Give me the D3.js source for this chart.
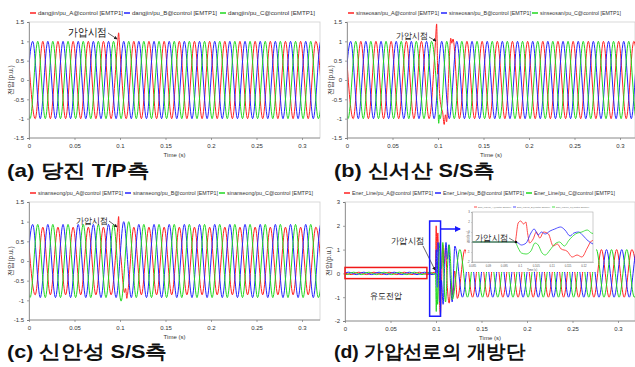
<!DOCTYPE html>
<html>
<head>
<meta charset="utf-8">
<script src="https://cdn.jsdelivr.net/npm/d3@7"></script>
<style>
  body { margin: 0; background: #fff; }
  svg { display: block; }
  text { font-family: "Liberation Sans", Arial, sans-serif; }
</style>
</head>
<body>
<div id="chart"></div>
<script>
// times (s) of the peaks / troughs of each phase
const tA = [-0.0015, 0.0068, 0.0152, 0.0235, 0.0318, 0.0402, 0.0485, 0.0568, 0.0652, 0.0735,
  0.0818, 0.0902, 0.0985, 0.1068, 0.1152, 0.1235, 0.1318, 0.1402, 0.1485, 0.1568,
  0.1652, 0.1735, 0.1818, 0.1902, 0.1985, 0.2068, 0.2152, 0.2235, 0.2318, 0.2402,
  0.2485, 0.2568, 0.2652, 0.2735, 0.2818, 0.2902, 0.2985, 0.3068, 0.3152, 0.3235];
const tB = [-0.0042, 0.0041, 0.0124, 0.0207, 0.0291, 0.0374, 0.0457, 0.0541, 0.0624, 0.0707,
  0.0791, 0.0874, 0.0957, 0.1041, 0.1124, 0.1207, 0.1291, 0.1374, 0.1457, 0.1541,
  0.1624, 0.1707, 0.1791, 0.1874, 0.1957, 0.2041, 0.2124, 0.2207, 0.2291, 0.2374,
  0.2457, 0.2541, 0.2624, 0.2707, 0.2791, 0.2874, 0.2957, 0.3041, 0.3124, 0.3207, 0.3291];
const tC = [-0.0071, 0.0012, 0.0096, 0.0179, 0.0262, 0.0346, 0.0429, 0.0512, 0.0596, 0.0679,
  0.0762, 0.0846, 0.0929, 0.1012, 0.1096, 0.1179, 0.1262, 0.1346, 0.1429, 0.1512,
  0.1596, 0.1679, 0.1762, 0.1846, 0.1929, 0.2012, 0.2096, 0.2179, 0.2262, 0.2346,
  0.2429, 0.2512, 0.2596, 0.2679, 0.2762, 0.2846, 0.2929, 0.3012, 0.3096, 0.3179, 0.3262];

// (a) dangjin  -- values at the times above (null = replaced by the detail points)
const aA = [1, -1, 1, -1, 1, -1, 1, -1, 1, -1,
  1, -1, null, -1, 1, -1, 1, -1, 1, -1,
  1, -1, 1, -1, 1, -1, 1, -1, 1, -1,
  1, -1, 1, -1, 1, -1, 1, -1, 1, -1];
const aB = [-1, 1, -1, 1, -1, 1, -1, 1, -1, 1,
  -1, 1, -1, 1, -1, 1, -1, 1, -1, 1,
  -1, 1, -1, 1, -1, 1, -1, 1, -1, 1,
  -1, 1, -1, 1, -1, 1, -1, 1, -1, 1, -1];
const aC = [1, -1, 1, -1, 1, -1, 1, -1, 1, -1,
  1, -1, 1, -1, 1, -1, 1, -1, 1, -1,
  1, -1, 1, -1, 1, -1, 1, -1, 1, -1,
  1, -1, 1, -1, 1, -1, 1, -1, 1, -1, 1];
const aAx = [[0.0975, 0.99], [0.0985, 1.22], [0.0993, 0.98]];

// (b) sinseosan
const bA = [1, -1, 1, -1, 1, -1, 1, -1, 1, -1,
  1, -1, null, null, null, -1, 1, -1, 1, -1,
  1, -1, 1, -1, 1, -1, 1, -1, 1, -1,
  1, -1, 1, -1, 1, -1, 1, -1, 1, -1];
const bB = [-1, 1, -1, 1, -1, 1, -1, 1, -1, 1,
  -1, 1, -1, 1, -1, 1, -1, 1, -1, 1,
  -1, 1, -1, 1, -1, 1, -1, 1, -1, 1,
  -1, 1, -1, 1, -1, 1, -1, 1, -1, 1, -1];
const bC = [1, -1, 1, -1, 1, -1, 1, -1, 1, -1,
  1, -1, 1, null, 1, -1, 1, -1, 1, -1,
  1, -1, 1, -1, 1, -1, 1, -1, 1, -1,
  1, -1, 1, -1, 1, -1, 1, -1, 1, -1, 1];
const bAx = [[0.0972, 0.97], [0.0985, 1.45], [0.0991, 0.9], [0.0997, 0.15], [0.1004, 0.4],
  [0.1015, -0.25], [0.1035, -0.7], [0.1052, -0.85], [0.1068, -1.15], [0.1082, -0.9],
  [0.1095, -1.08], [0.1112, -0.2], [0.1128, 0.7], [0.114, 1.08], [0.1152, 0.95], [0.1165, 1.06]];
const bCx = [[0.0998, -0.7], [0.1008, -1.12], [0.1016, -0.9], [0.1024, -1.0]];

// (c) sinanseong
const cA = [0.86, -0.86, 0.86, -0.86, 0.86, -0.86, 0.86, -0.86, 0.86, -0.86,
  0.86, -0.86, null, null, 0.86, -0.86, 0.86, -0.86, 0.86, -0.86,
  0.86, -0.86, 0.86, -0.86, 0.86, -0.86, 0.86, -0.86, 0.86, -0.86,
  0.86, -0.86, 0.86, -0.86, 0.86, -0.86, 0.86, -0.86, 0.86, -0.86];
const cB = [-0.93, 0.93, -0.93, 0.93, -0.93, 0.93, -0.93, 0.93, -0.93, 0.93,
  -0.93, 0.93, -0.93, 1.0, -0.93, 0.93, -0.93, 0.93, -0.93, 0.93,
  -0.93, 0.93, -0.93, 0.93, -0.93, 0.93, -0.93, 0.93, -0.93, 0.93,
  -0.93, 0.93, -0.93, 0.93, -0.93, 0.93, -0.93, 0.93, -0.93, 0.93, -0.93];
const cC = [0.93, -0.93, 0.93, -0.93, 0.93, -0.93, 0.93, -0.93, 0.93, -0.93,
  0.93, -0.93, 0.93, -1.02, 1.0, -0.93, 0.93, -0.93, 0.93, -0.93,
  0.93, -0.93, 0.93, -0.93, 0.93, -0.93, 0.93, -0.93, 0.93, -0.93,
  0.93, -0.93, 0.93, -0.93, 0.93, -0.93, 0.93, -0.93, 0.93, -0.93, 0.93];
const cAx = [[0.0975, 0.85], [0.0985, 1.13], [0.0992, 0.7], [0.1, 0.3], [0.1012, 0.05],
  [0.1035, -0.6], [0.105, -0.8], [0.1062, -0.7], [0.1075, -0.95], [0.1088, -0.75]];

// (d) Ener_Line (open end of the energized line)
const dA = [0.05, -0.05, 0.05, -0.05, 0.05, -0.05, 0.05, -0.05, 0.05, -0.05,
  0.05, -0.05, null, null, null, -1.05, 1, -1, 1, -1,
  1, -1, 1, -1, 1, -1, 1, -1, 1, -1,
  1, -1, 1, -1, 1, -1, 1, -1, 1, -1];
const dB = [-0.05, 0.05, -0.05, 0.05, -0.05, 0.05, -0.05, 0.05, -0.05, 0.05,
  -0.05, 0.05, -0.05, null, null, 1.15, -1, 1, -1, 1,
  -1, 1, -1, 1, -1, 1, -1, 1, -1, 1,
  -1, 1, -1, 1, -1, 1, -1, 1, -1, 1, -1];
const dC = [0.05, -0.05, 0.05, -0.05, 0.05, -0.05, 0.05, -0.05, 0.05, -0.05,
  0.05, -0.05, 0.05, null, null, -1.1, 1, -1, 1, -1,
  1, -1, 1, -1, 1, -1, 1, -1, 1, -1,
  1, -1, 1, -1, 1, -1, 1, -1, 1, -1, 1];
const dAx = [[0.0985, 0.05], [0.0993, 0.0], [0.1002, 2.0], [0.101, 0.9], [0.102, 1.7],
  [0.1032, -0.4], [0.1048, -1.75], [0.106, -0.5], [0.1075, 1.2], [0.109, 0.4],
  [0.1105, 1.1], [0.1125, -0.6], [0.1145, -1.25], [0.1165, -0.4], [0.1185, -0.9], [0.1205, 0.1]];
const dBx = [[0.0995, 0.0], [0.1003, 1.0], [0.1012, -0.6], [0.1022, 1.3], [0.1035, 0.2],
  [0.1045, -1.2], [0.106, -0.3], [0.1078, -1.3], [0.1095, 0.3], [0.111, 1.3],
  [0.1125, 0.6], [0.114, 1.2], [0.116, -0.4], [0.1178, -1.2]];
const dCx = [[0.0985, -0.03], [0.0995, 0.0], [0.1003, -1.6], [0.101, -0.6], [0.1018, -1.3],
  [0.103, 0.4], [0.1045, 1.3], [0.106, 0.2], [0.1075, 1.3], [0.109, -0.5],
  [0.1105, -1.2], [0.1125, 0.2], [0.1145, 1.2], [0.116, 0.5]];

// zoomed inset of (d), 0.085 .. 0.123 s
const iA = [[0.085, 0], [0.0985, 0], [0.0995, 1.9], [0.1003, 2.1], [0.1012, 1.8], [0.1019, 2.0],
  [0.1025, 0.8], [0.1031, -0.1], [0.1042, 0.3], [0.1052, 1.0], [0.1063, 0.4], [0.1075, 1.0],
  [0.109, 0.8], [0.1105, -0.4], [0.1118, -0.2], [0.113, -0.7], [0.1148, -0.9], [0.1165, -1.5],
  [0.118, -1.3], [0.1195, -1.5], [0.1212, -0.6], [0.1225, 0.1], [0.123, 0.15]];
const iB = [[0.085, 0], [0.0985, 0], [0.0995, -0.1], [0.1005, -0.3], [0.102, -0.1], [0.1035, 0.9],
  [0.1045, 1.3], [0.1058, 0.7], [0.1068, 1.0], [0.108, 0.8], [0.1095, 1.1], [0.111, 1.3],
  [0.1128, 1.5], [0.1142, 1.2], [0.1158, 0.6], [0.117, 0.9], [0.1185, 1.0], [0.12, 0.6],
  [0.1215, 0.1], [0.123, -0.2]];
const iC = [[0.085, 0], [0.0985, 0], [0.0995, -0.6], [0.1005, -1.1], [0.102, -1.2], [0.1035, -0.9],
  [0.1048, -0.1], [0.1058, -0.3], [0.107, -1.1], [0.108, -1.3], [0.1095, -0.8], [0.111, -0.2],
  [0.1125, 0.0], [0.114, -0.4], [0.1155, 0.2], [0.1175, 0.8], [0.1195, 1.0], [0.1212, 1.2],
  [0.1225, 0.9], [0.123, 0.85]];

const timeTicks = [0, 0.05, 0.1, 0.15, 0.2, 0.25, 0.3];
const puTicks = [-1.5, -1, -0.5, 0, 0.5, 1, 1.5];
const puTicksD = [-2, -1, 0, 1, 2, 3];
const insetTimeTicks = [0.085, 0.09, 0.095, 0.1, 0.105, 0.11, 0.115, 0.12];
const insetTicks = [-2, -1, 0, 1, 2, 3];
const phases = ['A', 'B', 'C'];
const colors = ['#ff2020', '#2323ff', '#1fd81f'];

function pts(times, vals, extra) {
  const p = times.map((t, i) => [t, vals[i]]).filter(d => d[1] != null).concat(extra || []);
  p.sort((a, b) => a[0] - b[0]);
  return p;
}

const panels = [
  { name: 'dangjin', left: 29, right: 320, top: 22, bottom: 138, yDom: [-1.5, 1.5], yTicks: puTicks,
    series: [pts(tA, aA, aAx), pts(tB, aB), pts(tC, aC)],
    legY: 13, leg: [29, 123, 219], legLen: [85, 85, 87], ylabX: 13,
    caption: '(a) 당진 T/P측', capX: 7, capY: 177, capLen: 142 },
  { name: 'sinseosan', left: 347, right: 635, top: 22, bottom: 138, yDom: [-1.5, 1.5], yTicks: puTicks,
    series: [pts(tA, bA, bAx), pts(tB, bB), pts(tC, bC, bCx)],
    legY: 13, leg: [347, 440, 531], legLen: [83, 82, 81], ylabX: 333,
    caption: '(b) 신서산 S/S측', capX: 334, capY: 177, capLen: 161 },
  { name: 'sinanseong', left: 29, right: 320, top: 202, bottom: 320, yDom: [-1.5, 1.5], yTicks: puTicks,
    series: [pts(tA, cA, cAx), pts(tB, cB), pts(tC, cC)],
    legY: 193, leg: [29, 124, 218], legLen: [85, 85, 86], ylabX: 13,
    caption: '(c) 신안성 S/S측', capX: 7, capY: 358, capLen: 160 },
  { name: 'Ener_Line', left: 345, right: 635, top: 202, bottom: 321, yDom: [-2, 3], yTicks: puTicksD,
    series: [pts(tA, dA, dAx), pts(tB, dB, dBx), pts(tC, dC, dCx)],
    legY: 193, leg: [343, 434, 525], legLen: [81, 81, 81], ylabX: 331,
    caption: '(d) 가압선로의 개방단', capX: 334, capY: 358, capLen: 191 }
];

const svg = d3.select('#chart').append('svg').attr('width', 635).attr('height', 367);
svg.append('rect').attr('width', 635).attr('height', 367).attr('fill', '#fff');

const defs = svg.append('defs');
defs.append('marker').attr('id', 'head').attr('viewBox', '0 0 6 6')
  .attr('refX', 5).attr('refY', 3).attr('markerWidth', 5).attr('markerHeight', 5)
  .attr('orient', 'auto')
  .append('path').attr('d', 'M0,0L6,3L0,6Z').attr('fill', '#222');
defs.append('marker').attr('id', 'headBlue').attr('viewBox', '0 0 6 6')
  .attr('refX', 5).attr('refY', 3).attr('markerWidth', 4).attr('markerHeight', 4)
  .attr('orient', 'auto')
  .append('path').attr('d', 'M0,0L6,3L0,6Z').attr('fill', '#1a1aff');

const scales = [];

panels.forEach((p, pi) => {
  const x = d3.scaleLinear().domain([0, 0.32]).range([p.left, p.left + 0.32 * 910]);
  const y = d3.scaleLinear().domain(p.yDom).range([p.bottom, p.top]);
  scales.push({ x, y });
  const g = svg.append('g');

  defs.append('clipPath').attr('id', 'clip' + pi)
    .append('rect').attr('x', p.left).attr('y', p.top - 10)
    .attr('width', p.right - p.left).attr('height', p.bottom - p.top + 10);

  g.append('rect').attr('x', p.left).attr('y', p.top)
    .attr('width', p.right - p.left).attr('height', p.bottom - p.top)
    .attr('fill', '#fff').attr('stroke', '#cfcfcf').attr('stroke-width', 0.8);

  const line = d3.line().x(d => x(d[0])).y(d => y(d[1])).curve(d3.curveMonotoneX);
  const lines = g.append('g').attr('clip-path', `url(#clip${pi})`);
  p.series.forEach((s, si) => {
    lines.append('path').datum(s).attr('d', line)
      .attr('fill', 'none').attr('stroke', colors[si]).attr('stroke-width', 1);
  });

  // axes
  const ax = g.append('g').attr('transform', `translate(0,${p.bottom})`)
    .call(d3.axisBottom(x).tickValues(timeTicks).tickSize(2).tickFormat(d => String(d)));
  const ay = g.append('g').attr('transform', `translate(${p.left},0)`)
    .call(d3.axisLeft(y).tickValues(p.yTicks).tickSize(2).tickFormat(d => String(d)));
  [ax, ay].forEach(a => {
    a.select('.domain').attr('stroke', '#888').attr('stroke-width', 0.8);
    a.selectAll('.tick line').attr('stroke', '#666').attr('stroke-width', 0.6);
    a.selectAll('.tick text').attr('fill', '#333').attr('font-size', 6);
  });
  ax.selectAll('.tick text').attr('dy', '0.9em');
  ax.select('.domain').attr('d', `M${p.left},0H${p.right}`);

  g.append('text').attr('x', (p.left + p.right) / 2).attr('y', p.bottom + 19)
    .attr('text-anchor', 'middle').attr('font-size', 6).attr('fill', '#333').text('Time (s)');
  g.append('text').attr('transform', `translate(${p.ylabX},${(p.top + p.bottom) / 2}) rotate(-90)`)
    .attr('text-anchor', 'middle').attr('font-size', 6.5).attr('fill', '#333')
    .attr('font-family', 'Noto Sans CJK KR').text('전압(p.u.)');

  // legend
  phases.forEach((ph, i) => {
    const lx = p.leg[i];
    g.append('line').attr('x1', lx + 1).attr('x2', lx + 7).attr('y1', p.legY).attr('y2', p.legY)
      .attr('stroke', colors[i]).attr('stroke-width', 1.5);
    g.append('text').attr('x', lx + 9).attr('y', p.legY + 2.2)
      .attr('font-size', 6).attr('fill', '#333')
      .attr('textLength', p.legLen[i]).attr('lengthAdjust', 'spacingAndGlyphs')
      .text(`${p.name}/pu_${ph}@control [EMTP1]`);
  });

  // caption
  svg.append('text').attr('x', p.capX).attr('y', p.capY)
    .attr('font-family', 'Noto Sans CJK KR').attr('font-weight', 700).attr('font-size', 19)
    .attr('fill', '#111').attr('textLength', p.capLen).attr('lengthAdjust', 'spacingAndGlyphs')
    .text(p.caption);
});

// "가압시점" notes
function note(tx, ty, size, len, x1, y1, x2, y2) {
  svg.append('text').attr('x', tx).attr('y', ty)
    .attr('font-family', 'Noto Sans CJK KR').attr('font-weight', 500).attr('font-size', size)
    .attr('fill', '#111').attr('textLength', len).attr('lengthAdjust', 'spacingAndGlyphs')
    .text('가압시점');
  svg.append('line').attr('x1', x1).attr('y1', y1).attr('x2', x2).attr('y2', y2)
    .attr('stroke', '#222').attr('stroke-width', 0.7).attr('marker-end', 'url(#head)');
}
note(68, 36, 10.5, 39, 108, 33, 117, 39);
note(396, 39, 9, 32, 429, 37, 436, 41);
note(76, 224, 9, 32, 109, 221, 117, 227);
note(391, 244, 9, 33, 423, 246, 435, 270);

// (d) boxes, arrow and label
const sd = scales[3];
svg.append('rect').attr('x', sd.x(0)).attr('y', sd.y(0.25))
  .attr('width', sd.x(0.09) - sd.x(0)).attr('height', sd.y(-0.22) - sd.y(0.25))
  .attr('fill', 'none').attr('stroke', '#f01818').attr('stroke-width', 1.5);
svg.append('rect').attr('x', sd.x(0.093)).attr('y', sd.y(2.2))
  .attr('width', sd.x(0.105) - sd.x(0.093)).attr('height', sd.y(-1.8) - sd.y(2.2))
  .attr('fill', 'none').attr('stroke', '#1a1aff').attr('stroke-width', 1.5);
svg.append('line').attr('x1', sd.x(0.105)).attr('x2', 460).attr('y1', 229).attr('y2', 229)
  .attr('stroke', '#1a1aff').attr('stroke-width', 1.5).attr('marker-end', 'url(#headBlue)');
svg.append('text').attr('x', 370).attr('y', 299)
  .attr('font-family', 'Noto Sans CJK KR').attr('font-weight', 500).attr('font-size', 9)
  .attr('fill', '#111').attr('textLength', 32).attr('lengthAdjust', 'spacingAndGlyphs')
  .text('유도전압');

// inset
const ins = svg.append('g');
ins.append('rect').attr('x', 466).attr('y', 203).attr('width', 130).attr('height', 69).attr('fill', '#fff');
const ix = d3.scaleLinear().domain([0.085, 0.123]).range([472, 593]);
const iy = d3.scaleLinear().domain([-2, 3]).range([262, 212]);
ins.append('rect').attr('x', 472).attr('y', 212).attr('width', 121).attr('height', 50)
  .attr('fill', '#fff').attr('stroke', '#aaa').attr('stroke-width', 0.6);
const iline = d3.line().x(d => ix(d[0])).y(d => iy(d[1])).curve(d3.curveMonotoneX);
[iA, iB, iC].forEach((s, si) => {
  ins.append('path').datum(s).attr('d', iline).attr('fill', 'none')
    .attr('stroke', colors[si]).attr('stroke-width', 0.8);
});
const iax = ins.append('g').attr('transform', 'translate(0,262)')
  .call(d3.axisBottom(ix).tickValues(insetTimeTicks).tickSize(1).tickFormat(d => String(d)));
const iay = ins.append('g').attr('transform', 'translate(472,0)')
  .call(d3.axisLeft(iy).tickValues(insetTicks).tickSize(1).tickFormat(d => String(d)));
[iax, iay].forEach(a => {
  a.select('.domain').attr('stroke', '#999').attr('stroke-width', 0.5);
  a.selectAll('.tick line').attr('stroke', '#999').attr('stroke-width', 0.4);
  a.selectAll('.tick text').attr('fill', '#555').attr('font-size', 2.8);
});
iax.selectAll('.tick text').attr('dy', '0.3em');
iay.selectAll('.tick text').attr('dx', '0.6em');
ins.append('text').attr('x', 532).attr('y', 270.5).attr('text-anchor', 'middle')
  .attr('font-size', 2.8).attr('fill', '#555').text('Time (s)');
ins.append('text').attr('transform', 'translate(469,237) rotate(-90)').attr('text-anchor', 'middle')
  .attr('font-size', 2.8).attr('fill', '#555').attr('font-family', 'Noto Sans CJK KR').text('전압(p.u.)');
[474, 513, 552].forEach((lx, i) => {
  ins.append('line').attr('x1', lx).attr('x2', lx + 3).attr('y1', 207).attr('y2', 207)
    .attr('stroke', colors[i]).attr('stroke-width', 0.8);
  ins.append('text').attr('x', lx + 4).attr('y', 208).attr('font-size', 2.5).attr('fill', '#666')
    .attr('textLength', 33).attr('lengthAdjust', 'spacingAndGlyphs')
    .text(`Ener_Line/pu_${phases[i]}@control [EMTP1]`);
});
ins.append('text').attr('x', 475).attr('y', 241)
  .attr('font-family', 'Noto Sans CJK KR').attr('font-weight', 500).attr('font-size', 9)
  .attr('fill', '#111').attr('textLength', 33).attr('lengthAdjust', 'spacingAndGlyphs')
  .text('가압시점');
ins.append('line').attr('x1', 509).attr('y1', 238).attr('x2', 514).attr('y2', 241)
  .attr('stroke', '#222').attr('stroke-width', 0.6);
ins.append('circle').attr('cx', ix(0.0988)).attr('cy', iy(0)).attr('r', 1.3).attr('fill', '#111');
</script>
</body>
</html>
